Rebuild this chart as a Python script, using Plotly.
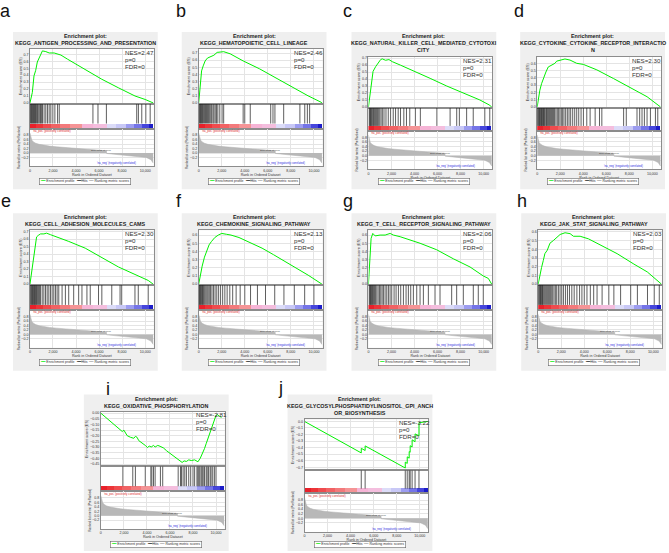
import plotly.graph_objects as go

W, H = 669, 553
X_MAX = 10750
FONT = "Liberation Sans, Arial, sans-serif"

# ranked list shared by all panels (same dataset)
rank_pos = [0, 30, 80, 160, 300, 500, 800, 1200, 1700, 2300, 3000, 4000, 5000, 6000, 6640,
            6660, 7200, 8000, 8800, 9500, 10100, 10500, 10700]
rank_metric = [0.9, 0.8, 0.68, 0.58, 0.5, 0.44, 0.39, 0.35, 0.31, 0.28, 0.25, 0.21, 0.17, 0.13, 0.1,
               -0.02, -0.05, -0.08, -0.11, -0.15, -0.2, -0.3, -0.45]

# red -> blue bar under the hits
bar_edges = [0, 500, 1100, 1800, 2600, 3500, 4500, 5500, 6650, 7500, 8300, 9000, 9700, 10300, 10700]
bar_colors = ["#e8202a", "#ec3438", "#ef4b4e", "#f16264", "#f37a7c", "#f59496", "#f6b4d6",
              "#f4bede", "#dcdcf8", "#c8c8f6", "#9c9cf0", "#7474e8", "#4646dc", "#1c1cc8"]

# a
a_es_x = [0, 205, 350, 500, 640, 880, 1080, 1375, 1670, 2100, 2690, 3270, 4730, 6200, 7660, 9120, 10000, 10520, 10700]
a_es_y = [0, 0.15, 0.39, 0.47, 0.59, 0.69, 0.75, 0.74, 0.72, 0.72, 0.69, 0.63, 0.49, 0.345, 0.22, 0.10, 0.05, 0.01, 0]
a_hits = [29, 88, 146, 205, 263, 322, 380, 439, 497, 556, 643, 702, 789, 877, 936, 1023, 1082, 1228, 1374,
          1520, 1667, 1813, 1988, 2164, 2398, 2544, 5468, 5906, 6637, 9269, 9415, 9708, 10059, 10439]
# b
b_es_x = [0, 140, 250, 390, 560, 760, 1040, 1320, 1600, 1890, 2170, 2730, 3860, 5270, 6670, 8080, 9490, 10620, 10700]
b_es_y = [0, 0.2, 0.45, 0.52, 0.59, 0.63, 0.65, 0.67, 0.71, 0.72, 0.72, 0.69, 0.59, 0.48, 0.35, 0.23, 0.10, 0.01, 0]
b_hits = [56, 113, 169, 225, 282, 338, 422, 507, 591, 676, 760, 845, 929, 1042, 1126, 1239, 1324, 1436,
          1549, 1661, 1830, 2028, 2168, 3858, 3999, 4477, 6252, 6449, 6618, 7378, 8786, 9208, 9434, 9631]
# c
c_es_x = [0, 143, 260, 400, 630, 830, 1060, 1200, 1490, 1780, 2070, 2780, 3930, 5360, 6800, 8230, 9670, 10470, 10700]
c_es_y = [0, 0.2, 0.34, 0.51, 0.58, 0.63, 0.68, 0.69, 0.67, 0.68, 0.65, 0.60, 0.52, 0.41, 0.30, 0.20, 0.10, 0.03, 0]
c_hits = [57, 115, 172, 230, 287, 373, 431, 517, 603, 689, 775, 861, 976, 1091, 1205, 1349, 1521, 1722, 1923,
          2153, 2353, 2583, 2784, 3071, 3301, 3588, 4075, 4506, 5941, 7089, 7663, 7893, 8524, 9098, 10102, 10533]
# d
d_es_x = [0, 116, 230, 380, 520, 755, 960, 1250, 1540, 1690, 1980, 2410, 2850, 3430, 4010, 5180, 6630, 8080, 9540, 10700]
d_es_y = [0, 0.14, 0.23, 0.32, 0.39, 0.48, 0.55, 0.58, 0.60, 0.63, 0.64, 0.66, 0.645, 0.60, 0.585, 0.51, 0.39, 0.27, 0.14, 0]
d_hits = [29, 87, 145, 204, 262, 320, 378, 436, 494, 553, 611, 669, 756, 814, 901, 989, 1076, 1163, 1250, 1338,
          1425, 1512, 1628, 1745, 1861, 1977, 2094, 2210, 2326, 2472, 2617, 2763, 2908, 3082, 3257, 3431, 3606,
          3809, 4013, 4304, 4595, 5031, 5409, 5612, 7503, 7735, 8666, 8898, 9102, 9306, 9538, 9829, 10265, 10469]
# e
e_es_x = [0, 144, 260, 400, 575, 720, 920, 1210, 1440, 1780, 2360, 3370, 4800, 6240, 7680, 9120, 10270, 10700]
e_es_y = [0, 0.16, 0.34, 0.47, 0.63, 0.65, 0.67, 0.67, 0.68, 0.66, 0.63, 0.57, 0.48, 0.36, 0.23, 0.13, 0.05, 0]
e_hits = [58, 115, 173, 230, 288, 345, 403, 460, 518, 575, 661, 748, 834, 920, 1064, 1208, 1352, 1496, 1639,
          1783, 1927, 2071, 2215, 2358, 2502, 2790, 3077, 3365, 3796, 4228, 4515, 4947, 5234, 5953, 6241,
          7104, 7823, 7967, 9117, 9405, 10268]
# f
f_es_x = [0, 150, 300, 500, 700, 900, 1100, 1400, 1700, 2000, 2400, 2800, 3500, 4500, 5500, 6500, 7500, 8500, 9500, 10700]
f_es_y = [0, 0.12, 0.22, 0.33, 0.42, 0.48, 0.52, 0.57, 0.60, 0.62, 0.61, 0.60, 0.57, 0.51, 0.44, 0.36, 0.28, 0.20, 0.11, 0]
f_hits = [40, 90, 140, 200, 260, 330, 400, 470, 550, 640, 730, 820, 920, 1030, 1150, 1280, 1420, 1570, 1730,
          1900, 2080, 2270, 2470, 2700, 2950, 3250, 3600, 4000, 4500, 5100, 5800, 6600, 7400, 8300, 9200, 10000]
# g
g_es_x = [0, 58, 145, 230, 375, 580, 1010, 1450, 1880, 2170, 2750, 3610, 4480, 5930, 7370, 8820, 9970, 10410, 10700]
g_es_y = [0, 0.15, 0.40, 0.56, 0.62, 0.59, 0.60, 0.60, 0.62, 0.60, 0.58, 0.54, 0.50, 0.42, 0.31, 0.21, 0.10, 0.07, 0]
g_hits = [58, 116, 173, 231, 289, 347, 434, 520, 607, 723, 838, 954, 1069, 1185, 1301, 1445, 1590, 1734, 1879,
          2023, 2225, 2399, 2601, 2803, 3035, 3266, 3468, 3670, 3902, 4191, 4480, 4769, 5202, 5780, 6214,
          7225, 7659, 8237, 9104, 9537, 9971]
# h
h_es_x = [0, 146, 290, 440, 580, 790, 1020, 1310, 1600, 1900, 2330, 2770, 3060, 3640, 4370, 5390, 6850, 8310, 9470, 10700]
h_es_y = [0, 0.12, 0.19, 0.27, 0.35, 0.39, 0.47, 0.50, 0.54, 0.57, 0.59, 0.58, 0.55, 0.55, 0.52, 0.45, 0.35, 0.23, 0.14, 0]
h_hits = [29, 88, 146, 204, 263, 321, 380, 438, 526, 613, 701, 788, 876, 964, 1051, 1139, 1256, 1372, 1489,
          1606, 1752, 1898, 2044, 2190, 2365, 2540, 2716, 2920, 3124, 3358, 3592, 3796, 4000, 4234, 4526,
          4818, 5110, 5548, 6132, 6570, 7154, 8030, 8614, 9490, 10074, 10512]
# i
i_es_x = [0, 1857, 2000, 2286, 2571, 2857, 3000, 3143, 3286, 3571, 3857, 4057, 4200, 4371, 4571, 4714, 4943,
          5143, 5429, 5714, 6000, 6286, 6571, 6857, 7057, 7229, 7429, 7629, 7857, 8143, 8429, 8629, 8800,
          9000, 9143, 9286, 9486, 9657, 9857, 10000, 10143, 10286, 10486]
i_es_y = [0, -0.162, -0.150, -0.199, -0.213, -0.222, -0.205, -0.213, -0.242, -0.262, -0.285, -0.305, -0.290,
          -0.299, -0.285, -0.299, -0.285, -0.293, -0.307, -0.333, -0.356, -0.379, -0.399, -0.427, -0.436,
          -0.422, -0.427, -0.413, -0.419, -0.413, -0.430, -0.399, -0.362, -0.313, -0.270, -0.228, -0.185,
          -0.128, -0.056, -0.019, -0.014, -0.028, -0.036]
i_hits = [1914, 2771, 3000, 3857, 4343, 4429, 4571, 4714, 5171, 5371, 6714, 6914, 7000, 7143, 7286, 7429,
          7629, 7800, 8000, 8143, 8343, 8429, 8514, 8600, 8714, 8800, 8886, 9000, 9143, 9229, 9343, 9486,
          9571, 9714, 9857, 10000]
# j
j_es_x = [0, 4925, 4926, 5260, 5261, 8745, 8746, 8915, 8916, 9085, 9086, 9170, 9171, 9340, 9341, 9595, 9596, 9935, 9936, 10700]
j_es_y = [0, -0.48, -0.41, -0.443, -0.373, -0.71, -0.62, -0.64, -0.54, -0.56, -0.46, -0.47, -0.37, -0.39,
          -0.28, -0.31, -0.19, -0.22, -0.02, 0]
j_hits = [4925, 5260, 8745, 8915, 9085, 9170, 9340, 9595, 9935]

panels = [
    dict(letter="a", lines=["KEGG_ANTIGEN_PROCESSING_AND_PRESENTATION"], nes="2.47", ex=a_es_x, ey=a_es_y,
         hits=a_hits, rng=[-0.01, 0.78], dt=0.1, fmt=".1f", bx=12, by=32, lx=5, ly=19),
    dict(letter="b", lines=["KEGG_HEMATOPOIETIC_CELL_LINEAGE"], nes="2.46", ex=b_es_x, ey=b_es_y,
         hits=b_hits, rng=[-0.01, 0.76], dt=0.1, fmt=".1f", bx=181, by=32, lx=180, ly=19),
    dict(letter="c", lines=["KEGG_NATURAL_KILLER_CELL_MEDIATED_CYTOTOXI", "CITY"], nes="2.31", ex=c_es_x,
         ey=c_es_y, hits=c_hits, rng=[-0.01, 0.72], dt=0.1, fmt=".1f", bx=351, by=32, lx=347, ly=19),
    dict(letter="d", lines=["KEGG_CYTOKINE_CYTOKINE_RECEPTOR_INTERACTIO", "N"], nes="2.30", ex=d_es_x,
         ey=d_es_y, hits=d_hits, rng=[-0.01, 0.69], dt=0.1, fmt=".1f", bx=520, by=32, lx=519, ly=19),
    dict(letter="e", lines=["KEGG_CELL_ADHESION_MOLECULES_CAMS"], nes="2.30", ex=e_es_x, ey=e_es_y,
         hits=e_hits, rng=[-0.01, 0.72], dt=0.1, fmt=".1f", bx=12, by=214, lx=5, ly=210),
    dict(letter="f", lines=["KEGG_CHEMOKINE_SIGNALING_PATHWAY"], nes="2.13", ex=f_es_x, ey=f_es_y,
         hits=f_hits, rng=[-0.01, 0.66], dt=0.1, fmt=".1f", bx=181, by=214, lx=178, ly=210),
    dict(letter="g", lines=["KEGG_T_CELL_RECEPTOR_SIGNALING_PATHWAY"], nes="2.06", ex=g_es_x, ey=g_es_y,
         hits=g_hits, rng=[-0.01, 0.66], dt=0.1, fmt=".1f", bx=351, by=214, lx=348, ly=210),
    dict(letter="h", lines=["KEGG_JAK_STAT_SIGNALING_PATHWAY"], nes="2.03", ex=h_es_x, ey=h_es_y,
         hits=h_hits, rng=[-0.01, 0.62], dt=0.1, fmt=".1f", bx=521, by=214, lx=522, ly=210),
    dict(letter="i", lines=["KEGG_OXIDATIVE_PHOSPHORYLATION"], nes="-2.81", ex=i_es_x, ey=i_es_y,
         hits=i_hits, rng=[-0.47, 0.015], dt=0.05, fmt=".2f", bx=83, by=396, lx=107, ly=398),
    dict(letter="j", lines=["KEGG_GLYCOSYLPHOSPHATIDYLINOSITOL_GPI_ANCH", "OR_BIOSYNTHESIS"], nes="-3.22",
         ex=j_es_x, ey=j_es_y, hits=j_hits, rng=[-0.745, 0.03], dt=0.1, fmt=".1f", bx=287, by=396, lx=280, ly=397),
]

fig = go.Figure()
shapes = []


def px_x(v):
    return v / W


def px_y(v):
    return 1 - v / H


def ann(x, y, text, size, color="#222", xanchor="center", yanchor="middle", **kw):
    fig.add_annotation(xref="paper", yref="paper", x=px_x(x), y=px_y(y), text=text, showarrow=False,
                       xanchor=xanchor, yanchor=yanchor,
                       font=dict(size=size, family=FONT, color=color), **kw)


def rect(x0, y0, x1, y1, fill):
    shapes.append(dict(type="rect", xref="paper", yref="paper", x0=px_x(x0), x1=px_x(x1),
                       y0=px_y(min(y1, H)), y1=px_y(y0), fillcolor=fill, layer="below",
                       line=dict(width=0)))


axes = {}
bar_mid = [(bar_edges[i] + bar_edges[i + 1]) / 2 for i in range(len(bar_colors))]
bar_w = [bar_edges[i + 1] - bar_edges[i] for i in range(len(bar_colors))]

for k, p in enumerate(panels):
    bx, by = p["bx"], p["by"]
    pl, pr = bx + 17, bx + 141
    if len(p["lines"]) == 2:
        es_t, es_b, hi_b, rk_b = by + 25, by + 76, by + 99, by + 138
    else:
        es_t, es_b, hi_b, rk_b = by + 17, by + 72, by + 97, by + 135

    rect(bx, by, bx + 145, by + 158, "#efefef")
    for t, b in [(es_t, es_b), (es_b, hi_b), (hi_b, rk_b)]:
        rect(pl, t, pr, b, "white")

    n1, n2, n3 = 3 * k + 1, 3 * k + 2, 3 * k + 3
    names = [("xaxis" if n == 1 else f"xaxis{n}", "yaxis" if n == 1 else f"yaxis{n}",
              "x" if n == 1 else f"x{n}", "y" if n == 1 else f"y{n}") for n in (n1, n2, n3)]
    xdom = [px_x(pl), px_x(pr)]
    common = dict(showline=True, linecolor="#8c8c8c", linewidth=0.6, mirror=True, zeroline=False,
                  ticks="", tickfont=dict(size=3.6, family=FONT, color="#333"))

    # enrichment profile
    xa, ya, xr, yr = names[0]
    axes[xa] = dict(domain=xdom, anchor=yr, range=[0, X_MAX], dtick=2000, showticklabels=False,
                    showgrid=True, gridcolor="#e4e4e4", gridwidth=0.5, **common)
    axes[ya] = dict(domain=[px_y(es_b), px_y(es_t)], anchor=xr, range=p["rng"], dtick=p["dt"],
                    tickformat=p["fmt"], showgrid=True, gridcolor="#e4e4e4", gridwidth=0.5,
                    title=dict(text="Enrichment score (ES)", font=dict(size=3.8, family=FONT, color="#333"),
                               standoff=1), **common)
    fig.add_trace(go.Scatter(x=p["ex"], y=p["ey"], mode="lines", line=dict(color="#00f000", width=1),
                             xaxis=xr, yaxis=yr, hoverinfo="skip"))

    # hits + colour bar
    xa, ya, xr, yr = names[1]
    axes[xa] = dict(domain=xdom, anchor=yr, range=[0, X_MAX], showticklabels=False, showgrid=False, **common)
    axes[ya] = dict(domain=[px_y(hi_b), px_y(es_b)], anchor=xr, range=[-0.25, 1], showticklabels=False,
                    showgrid=False, **common)
    hx, hy = [], []
    for h in p["hits"]:
        hx += [h, h, None]
        hy += [0, 1, None]
    fig.add_trace(go.Scatter(x=hx, y=hy, mode="lines", line=dict(color="#1a1a1a", width=0.7),
                             xaxis=xr, yaxis=yr, hoverinfo="skip"))
    fig.add_trace(go.Bar(x=bar_mid, width=bar_w, y=[0.25] * len(bar_mid), base=-0.25,
                         marker=dict(color=bar_colors, line=dict(width=0)), xaxis=xr, yaxis=yr,
                         hoverinfo="skip"))

    # ranked list metric
    xa, ya, xr, yr = names[2]
    axes[xa] = dict(domain=xdom, anchor=yr, range=[0, X_MAX], dtick=2000, tickformat=",d",
                    showgrid=True, gridcolor="#e4e4e4", gridwidth=0.5,
                    title=dict(text="Rank in Ordered Dataset", font=dict(size=3.6, family=FONT, color="#333"),
                               standoff=1), **common)
    axes[ya] = dict(domain=[px_y(rk_b), px_y(hi_b)], anchor=xr, range=[-0.6, 1.1],
                    tickvals=[0.8, 0.6, 0.4, 0.2, 0.0, -0.2], tickformat=".1f", showgrid=True,
                    gridcolor="#e4e4e4", gridwidth=0.5,
                    title=dict(text="Ranked list metric (PreRanked)",
                               font=dict(size=3.1, family=FONT, color="#333"), standoff=1), **common)
    fig.add_trace(go.Scatter(x=rank_pos, y=rank_metric, mode="lines", fill="tozeroy",
                             fillcolor="#b8b8b8", line=dict(color="#b0b0b0", width=0.5),
                             xaxis=xr, yaxis=yr, hoverinfo="skip"))

    # texts
    ann(p["lx"], p["ly"] + 4, p["letter"], 18, color="#111", yanchor="bottom")
    cx = bx + 72.5
    ann(cx, by + 4, "<b>Enrichment plot:</b>", 5.4)
    for m, line in enumerate(p["lines"]):
        ann(cx, by + 11 + 7.5 * m, f"<b>{line}</b>", 5.4)
    for m, s in enumerate([f"NES={p['nes']}", "p=0", "FDR=0"]):
        ann(pr - 31, es_t + 3.5 + 7 * m, s, 6.2, color="#333", xanchor="left")
    rh = rk_b - hi_b
    ann(pl + 1, hi_b + 2.6, "'na_pos' (positively correlated)", 2.8, color="#e02828", xanchor="left")
    ann(pl + 0.58 * (pr - pl), hi_b + 0.58 * rh, "Zero cross at 6646", 2.4, color="#333")
    ann(pl + 0.70 * (pr - pl), rk_b - 3, "'na_neg' (negatively correlated)", 2.8, color="#2828e0")
    ann(cx, by + 150,
        "<span style='color:#00f000'>━━</span> Enrichment profile  <span style='color:#111'>━━</span> Hits"
        "  <span style='color:#aaa'>━━</span> Ranking metric scores",
        3.5, color="#333", bordercolor="#666", borderwidth=0.6, borderpad=0.8, bgcolor="white")

fig.update_layout(width=W, height=H, margin=dict(l=0, r=0, t=0, b=0), autosize=False,
                  paper_bgcolor="white", plot_bgcolor="rgba(0,0,0,0)", showlegend=False,
                  bargap=0, shapes=shapes, **axes)
# page has a default 8px body margin: drop it so the figure sits at the window corner
fig.write_html("out.html", config={"displayModeBar": False},
               post_script="document.body.style.margin='0';")
